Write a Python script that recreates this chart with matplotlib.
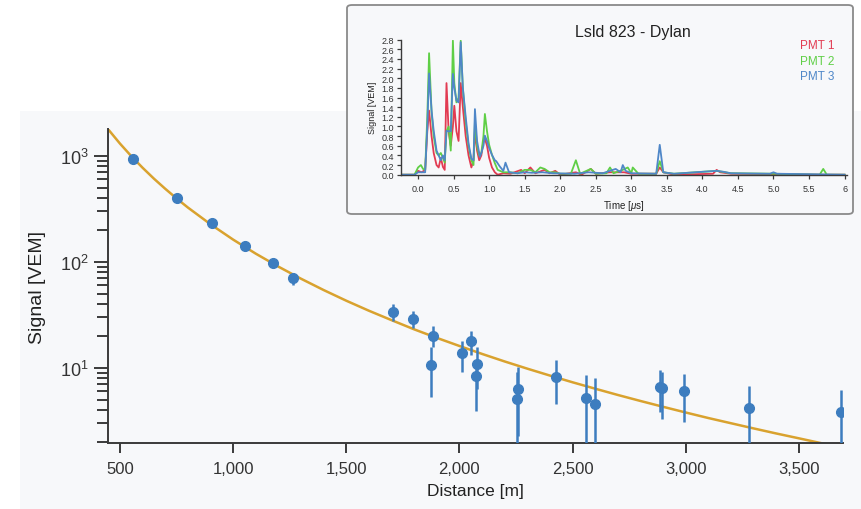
import matplotlib
matplotlib.use("Agg")
import matplotlib.pyplot as plt
from matplotlib.patches import Rectangle, FancyBboxPatch
from matplotlib.ticker import FixedLocator, FuncFormatter, LogLocator, NullFormatter
import numpy as np

plt.rcParams['font.family'] = ['Liberation Sans', 'DejaVu Sans']
plt.rcParams['mathtext.fontset'] = 'custom'
plt.rcParams['mathtext.rm'] = 'Liberation Sans'
plt.rcParams['mathtext.it'] = 'Liberation Sans:italic'

# ---- main LDF data ----
distance = [557, 750, 905, 1052, 1177, 1263, 1705, 1796, 1884, 1874, 2010, 2051,
            2079, 2073, 2260, 2256, 2427, 2560, 2598, 2886, 2896, 2992, 3280, 3685]
signal = [930, 399, 230, 141, 98, 70, 34, 29, 20, 10.6, 13.8, 17.9,
          11.0, 8.4, 6.3, 5.07, 8.2, 5.2, 4.6, 6.6, 6.4, 6.0, 4.2, 3.85]
sig_hi = [960, 415, 240, 148, 104, 77.8, 39.9, 34.5, 24.9, 15.6, 18.0, 22.3,
          15.6, 11.5, 10.2, 9.1, 11.8, 8.5, 8.05, 9.5, 9.2, 8.7, 6.76, 6.2]
sig_lo = [900, 383, 220, 134, 92, 60.7, 27.8, 24.0, 15.6, 5.3, 9.06, 13.2,
          6.3, 3.93, 2.28, 1.5, 4.55, 1.5, 1.5, 3.82, 3.28, 3.1, 1.5, 1.5]

fit_r = [447, 500, 550, 600, 650, 700, 750, 800, 900, 1000, 1100, 1200, 1300, 1400,
         1500, 1600, 1700, 1800, 1900, 2000, 2100, 2200, 2300, 2400, 2500, 2600,
         2700, 2800, 2900, 3000, 3100, 3200, 3300, 3400, 3500, 3600, 3700]
fit_s = [1783, 1301, 991, 770, 608, 488, 396, 325, 226, 162, 119.4, 90.1, 69.3, 54.2,
         43.0, 34.6, 28.2, 23.1, 19.2, 16.1, 13.55, 11.5, 9.84, 8.47, 7.32, 6.37,
         5.56, 4.88, 4.30, 3.80, 3.37, 3.01, 2.69, 2.41, 2.17, 1.95, 1.77]

# ---- inset traces ----
t_pmt1 = [-0.25, -0.05, 0.0, 0.05, 0.1, 0.13, 0.155, 0.19, 0.22, 0.26, 0.29, 0.32, 0.35, 0.375,
          0.40, 0.43, 0.46, 0.49, 0.51, 0.54, 0.57, 0.60, 0.63, 0.67, 0.71, 0.75, 0.78, 0.80,
          0.83, 0.86, 0.89, 0.92, 0.94, 0.97, 1.0, 1.04, 1.08, 1.12, 1.2, 1.3, 1.45, 1.5, 1.58,
          1.65, 1.78, 1.85, 1.93, 2.0, 2.22, 2.3, 2.43, 2.5, 2.7, 2.9, 3.0, 3.35, 3.4, 3.45,
          3.6, 4.15, 4.2, 4.25, 4.4, 5.0, 5.7, 6.0]
v_pmt1 = [0, 0, 0.08, 0.05, 0.1, 0.9, 1.33, 0.8, 0.45, 0.2, 0.15, 0.35, 0.16, 0.1,
          1.9, 0.9, 0.6, 1.0, 1.43, 0.9, 0.7, 1.9, 1.4, 0.8, 0.4, 0.15, 0.3, 0.9,
          0.5, 0.3, 0.4, 0.7, 0.75, 0.6, 0.35, 0.15, 0.05, 0.0, 0.03, 0.02, 0.1, 0.03, 0.15,
          0.03, 0.1, 0.03, 0.08, 0.0, 0.05, 0.0, 0.12, 0.02, 0.05, 0.05, 0.02, 0.02, 0.15, 0.05,
          0.0, 0.02, 0.1, 0.05, 0.02, 0.01, 0.0, 0.0]

t_pmt2 = [-0.25, -0.05, 0.0, 0.04, 0.07, 0.1, 0.13, 0.155, 0.19, 0.22, 0.26, 0.29, 0.32, 0.35,
          0.375, 0.40, 0.43, 0.46, 0.49, 0.51, 0.54, 0.57, 0.60, 0.63, 0.67, 0.71, 0.75, 0.78,
          0.80, 0.83, 0.86, 0.89, 0.92, 0.94, 0.97, 1.0, 1.04, 1.08, 1.12, 1.2, 1.3, 1.4, 1.5,
          1.58, 1.65, 1.72, 1.78, 1.85, 1.93, 2.0, 2.15, 2.22, 2.28, 2.43, 2.5, 2.65, 2.7, 2.75,
          2.88, 2.95, 3.0, 3.02, 3.1, 3.35, 3.4, 3.45, 3.6, 4.2, 4.4, 5.0, 5.65, 5.7, 5.75, 6.0]
v_pmt2 = [0, 0.0, 0.15, 0.2, 0.12, 0.1, 1.2, 2.52, 1.3, 0.8, 0.45, 0.4, 0.45, 0.35,
          0.25, 0.9, 1.0, 0.5, 2.78, 1.9, 1.5, 1.6, 2.78, 1.8, 1.1, 0.6, 0.3, 0.2,
          1.1, 0.6, 0.4, 0.45, 0.8, 1.26, 0.9, 0.62, 0.41, 0.24, 0.1, 0.05, 0.05, 0.03, 0.1,
          0.1, 0.05, 0.15, 0.12, 0.05, 0.05, 0.02, 0.02, 0.3, 0.02, 0.12, 0.02, 0.03, 0.15, 0.03,
          0.1, 0.15, 0.03, 0.15, 0.02, 0.02, 0.28, 0.05, 0.02, 0.08, 0.03, 0.02, 0.0, 0.12, 0.0, 0.0]

t_pmt3 = [-0.25, -0.05, 0.0, 0.05, 0.1, 0.13, 0.155, 0.19, 0.22, 0.26, 0.29, 0.32, 0.35, 0.375,
          0.40, 0.43, 0.46, 0.49, 0.51, 0.54, 0.57, 0.60, 0.63, 0.67, 0.71, 0.75, 0.78, 0.80,
          0.83, 0.87, 0.89, 0.92, 0.94, 0.97, 1.0, 1.04, 1.08, 1.1, 1.15, 1.2, 1.23, 1.28, 1.4,
          1.5, 1.6, 1.75, 1.9, 2.2, 2.4, 2.6, 2.78, 2.85, 2.88, 2.92, 3.0, 3.35, 3.4, 3.45, 3.6,
          4.2, 4.3, 4.4, 4.95, 5.0, 5.05, 6.0]
v_pmt3 = [0, 0.0, 0.05, 0.05, 0.05, 1.0, 2.1, 1.33, 0.91, 0.5, 0.4, 0.3, 0.4, 0.3,
          0.91, 0.9, 0.9, 2.09, 1.8, 1.54, 1.5, 2.75, 1.8, 1.2, 0.65, 0.33, 0.3, 1.36,
          0.7, 0.37, 0.45, 0.6, 0.81, 0.7, 0.55, 0.41, 0.3, 0.28, 0.17, 0.08, 0.25, 0.05, 0.03,
          0.05, 0.04, 0.05, 0.03, 0.02, 0.05, 0.03, 0.12, 0.05, 0.2, 0.08, 0.03, 0.02, 0.62, 0.05,
          0.02, 0.08, 0.06, 0.03, 0.02, 0.05, 0.02, 0.0]

inset_xticks = [0.0, 0.5, 1.0, 1.5, 2.0, 2.5, 3.0, 3.5, 4.0, 4.5, 5.0, 5.5, 6.0]
inset_xticklabels = ['0.0', '0.5', '1.0', '1.5', '2.0', '2.5', '3.0', '3.5', '4.0', '4.5', '5.0', '5.5', '6']
inset_yticks = [0.0, 0.2, 0.4, 0.6, 0.8, 1.0, 1.2, 1.4, 1.6, 1.8, 2.0, 2.2, 2.4, 2.6, 2.8]

W, H = 861, 510
BG = '#f7f8fa'
AX = '#3a3a3a'
BLUE = '#3d7dbf'
GOLD = '#d9a22e'

fig = plt.figure(figsize=(W / 100, H / 100), dpi=100)
fig.patch.set_facecolor('white')

def fx(px):
    return px / W

def fy(py):
    return 1 - py / H

# gray panel
fig.patches.append(Rectangle((fx(20), 0), 1 - fx(20), fy(112), transform=fig.transFigure,
                             facecolor=BG, edgecolor='none', zorder=-3))
# inset box
fig.patches.append(FancyBboxPatch((fx(347), fy(215)), fx(853) - fx(347), fy(6) - fy(215),
                                  boxstyle='round,pad=0,rounding_size=0.006',
                                  transform=fig.transFigure, facecolor=BG,
                                  edgecolor='#8a8a8a', linewidth=1.3, zorder=-2))

# ---- main axes ----
ax = fig.add_axes([fx(108), fy(444), fx(843) - fx(108), fy(130) - fy(444)])
ax.set_facecolor('none')
ax.set_zorder(0)
ax.set_yscale('log')
ax.set_xlim(447, 3695)
ax.set_ylim(1.96, 1787)

ax.plot(fit_r, fit_s, color=GOLD, lw=1.8, zorder=2, solid_capstyle='round')
sig_arr = np.array(signal)
yerr = [sig_arr - np.array(sig_lo), np.array(sig_hi) - sig_arr]
ax.errorbar(distance, signal, yerr=yerr, fmt='o', color=BLUE, ms=7, elinewidth=1.8,
            capsize=0, zorder=3)

for s in ['top', 'right']:
    ax.spines[s].set_visible(False)
for s in ['left', 'bottom']:
    ax.spines[s].set_color(AX)
    ax.spines[s].set_linewidth(1.4)

ax.set_xticks([500, 1000, 1500, 2000, 2500, 3000, 3500])
ax.xaxis.set_major_formatter(FuncFormatter(lambda v, p: f'{int(v):,}'))
ax.yaxis.set_major_locator(FixedLocator([10, 100, 1000]))
ax.yaxis.set_major_formatter(FuncFormatter(lambda v, p: r'$10^{%d}$' % round(np.log10(v))))
ax.yaxis.set_minor_locator(LogLocator(base=10, subs=np.arange(2, 10)))
ax.yaxis.set_minor_formatter(NullFormatter())
ax.tick_params(axis='both', which='major', direction='out', color=AX, width=1.4,
               labelsize=12, labelcolor='#333333')
ax.tick_params(axis='x', which='major', length=7, pad=6)
ax.tick_params(axis='y', which='major', length=10, pad=4, labelsize=13)
ax.tick_params(axis='y', which='minor', length=8, width=1.4, color=AX)
ax.set_xlabel('Distance [m]', fontsize=12.5, color='#222222', labelpad=5)
ax.set_ylabel('Signal [VEM]', fontsize=14, color='#222222', labelpad=10)

# ---- inset axes ----
ia = fig.add_axes([fx(401), fy(175.7), fx(846.7) - fx(401), fy(40.7) - fy(175.7)])
ia.set_facecolor('none')
ia.set_zorder(1)
ia.set_xlim(-0.24, 6.03)
ia.set_ylim(0, 2.8)
ia.plot(t_pmt1, v_pmt1, color='#e23b52', lw=1.3)
ia.plot(t_pmt2, v_pmt2, color='#5fcf46', lw=1.3)
ia.plot(t_pmt3, v_pmt3, color='#4f87c8', lw=1.3)
for s in ['top', 'right']:
    ia.spines[s].set_visible(False)
for s in ['left', 'bottom']:
    ia.spines[s].set_color(AX)
    ia.spines[s].set_linewidth(1.0)
ia.set_xticks(inset_xticks)
ia.set_xticklabels(inset_xticklabels)
ia.set_yticks(inset_yticks)
ia.set_yticklabels([f'{v:.1f}' for v in inset_yticks])
ia.tick_params(axis='both', direction='out', length=3, width=0.9, color=AX,
               labelsize=6.5, labelcolor='#333333', pad=2)
ia.tick_params(axis='x', pad=4)
ia.set_xlabel('Time [$\\mu$s]', fontsize=7, color='#222222', labelpad=3)
ia.set_ylabel('Signal [VEM]', fontsize=6.5, color='#222222', labelpad=3)

fig.text(fx(633), fy(33), 'Lsld 823 - Dylan', fontsize=11.5, ha='center', va='center',
         color='#222222')
fig.text(fx(800), fy(45.7), 'PMT 1', fontsize=8.5, ha='left', va='center', color='#e23b52')
fig.text(fx(800), fy(61.7), 'PMT 2', fontsize=8.5, ha='left', va='center', color='#5fcf46')
fig.text(fx(800), fy(77.3), 'PMT 3', fontsize=8.5, ha='left', va='center', color='#4f87c8')

fig.savefig('out.png', dpi=100, facecolor='white')
